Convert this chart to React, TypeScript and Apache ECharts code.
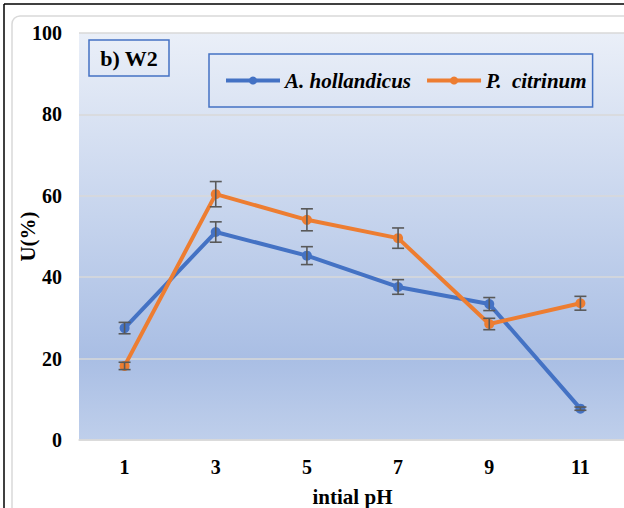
import React, { useEffect, useRef } from "react";
import * as echarts from "echarts";

const categories = ["1", "3", "5", "7", "9", "11"];
const aHollandicus = [27.5, 51.1, 45.3, 37.6, 33.4, 7.7];
const pCitrinum = [18.2, 60.4, 54.1, 49.6, 28.5, 33.6];
const aErr = [1.4, 2.5, 2.2, 1.8, 1.6, 0.4];
const pErr = [0.9, 3.1, 2.7, 2.5, 1.4, 1.7];
const yTicks = { min: 0, max: 100, interval: 20 };
const seriesNames = ["A. hollandicus", "P.  citrinum"];
const xName = "intial pH";
const yName = "U(%)";
const panelLabel = "b) W2";

const SERIF = "Liberation Serif, serif";
const BLUE = "#4472C4";
const ORANGE = "#ED7D31";

function errData(vals: number[], errs: number[]) {
  return vals.map((v, i) => [i, v - errs[i], v + errs[i]]);
}

function errorBarSeries(name: string, vals: number[], errs: number[]) {
  return {
    type: "custom",
    name: name + "-err",
    z: 5,
    encode: { x: 0, y: [1, 2] },
    data: errData(vals, errs),
    renderItem: (params: any, api: any) => {
      const x = api.value(0);
      const lo = api.coord([x, api.value(1)]);
      const hi = api.coord([x, api.value(2)]);
      const hw = 6;
      const st = { stroke: "#595959", lineWidth: 1.6 };
      return {
        type: "group",
        children: [
          { type: "line", shape: { x1: hi[0], y1: hi[1], x2: lo[0], y2: lo[1] }, style: st },
          { type: "line", shape: { x1: hi[0] - hw, y1: hi[1], x2: hi[0] + hw, y2: hi[1] }, style: st },
          { type: "line", shape: { x1: lo[0] - hw, y1: lo[1], x2: lo[0] + hw, y2: lo[1] }, style: st },
        ],
      };
    },
  };
}

export default function App() {
  const ref = useRef<HTMLDivElement>(null);
  useEffect(() => {
    if (!ref.current) return;
    const chart = echarts.init(ref.current, null, { renderer: "svg" });
    const labelStyle = { fontFamily: SERIF, fontWeight: "bold", fontSize: 20, color: "#000" };
    chart.setOption({
      animation: false,
      backgroundColor: "#fff",
      grid: {
        left: 79,
        top: 33,
        width: 547,
        height: 407,
        containLabel: false,
        outerBoundsMode: "none",
        show: true,
        borderWidth: 0,
        backgroundColor: {
          type: "linear",
          x: 0,
          y: 0,
          x2: 0,
          y2: 1,
          colorStops: [
            { offset: 0, color: "#eaeff8" },
            { offset: 0.45, color: "#c6d4ed" },
            { offset: 0.8, color: "#a9bee4" },
            { offset: 1, color: "#bfcfeb" },
          ],
        },
      },
      legend: {
        data: seriesNames,
        left: 209,
        top: 54,
        padding: [16, 6, 16, 15],
        itemGap: 14,
        itemWidth: 54,
        itemHeight: 10,
        borderColor: BLUE,
        borderWidth: 1.5,
        lineStyle: { width: 4 },
        textStyle: { fontFamily: SERIF, fontWeight: "bold", fontStyle: "italic", fontSize: 21, color: "#000" },
      },
      xAxis: {
        type: "category",
        data: categories,
        boundaryGap: true,
        axisLine: { show: true, lineStyle: { color: "#d9d9d9", width: 1.5 } },
        axisTick: { show: false },
        axisLabel: { ...labelStyle, margin: 17 },
        name: xName,
        nameLocation: "middle",
        nameGap: 46,
        nameMoveOverlap: false,
        nameTextStyle: { ...labelStyle, fontSize: 21 },
      },
      yAxis: {
        type: "value",
        min: yTicks.min,
        max: yTicks.max,
        interval: yTicks.interval,
        axisLine: { show: false },
        axisTick: { show: false },
        axisLabel: { ...labelStyle, margin: 17 },
        splitLine: { lineStyle: { color: "#d9d9d9", width: 1.5 } },
        name: yName,
        nameLocation: "middle",
        nameGap: 41,
        nameRotate: 90,
        nameMoveOverlap: false,
        nameTextStyle: { ...labelStyle, fontSize: 21 },
      },
      series: [
        {
          type: "line",
          name: seriesNames[0],
          data: aHollandicus,
          color: BLUE,
          lineStyle: { width: 4, color: BLUE },
          symbol: "circle",
          symbolSize: 10,
          itemStyle: { color: BLUE },
          z: 2,
        },
        {
          type: "line",
          name: seriesNames[1],
          data: pCitrinum,
          color: ORANGE,
          lineStyle: { width: 4, color: ORANGE },
          symbol: "circle",
          symbolSize: 10,
          itemStyle: { color: ORANGE },
          z: 3,
        },
        errorBarSeries(seriesNames[0], aHollandicus, aErr),
        errorBarSeries(seriesNames[1], pCitrinum, pErr),
      ],
      graphic: [
        {
          type: "rect",
          z: 0,
          silent: true,
          shape: { x: 12, y: 16, width: 700, height: 600, r: 8 },
          style: { fill: "none", stroke: "#d9d9d9", lineWidth: 1.5 },
        },
        {
          type: "line",
          z: 20,
          shape: { x1: 4, y1: 4, x2: 624, y2: 4 },
          style: { stroke: "#000", lineWidth: 1.5 },
        },
        {
          type: "line",
          z: 20,
          shape: { x1: 4, y1: 4, x2: 4, y2: 508 },
          style: { stroke: "#000", lineWidth: 1.5 },
        },
        {
          type: "rect",
          z: 20,
          shape: { x: 89, y: 40, width: 80, height: 36 },
          style: { fill: "none", stroke: BLUE, lineWidth: 1.5 },
        },
        {
          type: "text",
          z: 21,
          x: 129,
          y: 58,
          style: {
            text: panelLabel,
            fontFamily: SERIF,
            fontWeight: "bold",
            fontSize: 22,
            fill: "#000",
            align: "center",
            verticalAlign: "middle",
          },
        },
      ],
    });
    return () => chart.dispose();
  }, []);
  return (
    <div
      ref={ref}
      style={{ position: "absolute", left: 0, top: 0, width: 624, height: 508 }}
    />
  );
}
